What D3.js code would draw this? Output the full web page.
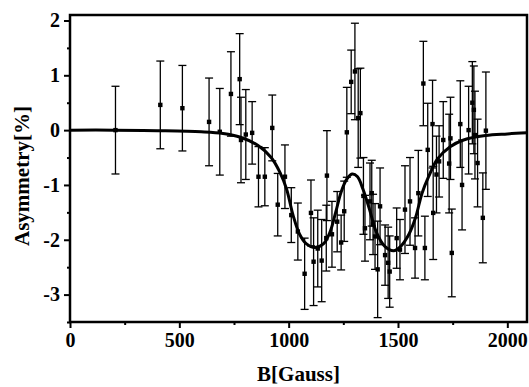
<!DOCTYPE html>
<html>
<head>
<meta charset="utf-8">
<script src="https://cdn.jsdelivr.net/npm/d3@7"></script>
<style>
  html, body { margin: 0; padding: 0; background: #fff; }
  svg { display: block; }
  text { font-family: "Liberation Serif", "Times New Roman", serif; font-weight: bold; fill: #000; }
</style>
</head>
<body>
<svg id="chart" width="529" height="387"></svg>
<script>
// ---- data ----
const fieldB = [208, 413, 514, 636, 685, 736, 776, 782, 804, 833, 862, 891, 925, 950, 983,
  1012, 1042, 1073, 1102, 1114, 1133, 1151, 1172, 1175, 1198, 1222, 1240, 1254, 1266, 1286,
  1303, 1318, 1328, 1342, 1349, 1372, 1380, 1386, 1395, 1407, 1418, 1441, 1455, 1462, 1494,
  1509, 1532, 1555, 1578, 1593, 1616, 1623, 1636, 1658, 1661, 1676, 1688, 1707, 1734, 1740,
  1746, 1785, 1793, 1823, 1840, 1847, 1852, 1864, 1888, 1902];
const asymmetry = [0.00, 0.46, 0.40, 0.15, -0.03, 0.66, 0.93, -0.18, -0.08, -0.05, -0.85, -0.85, 0.04, -1.36, -0.85,
  -1.55, -1.85, -2.62, -1.51, -2.40, -2.16, -2.38, -1.97, -0.83, -1.90, -1.67, -2.05, -1.48, -0.04, 0.88,
  1.07, 0.22, 0.31, -1.20, -1.79, -1.30, -1.15, -1.72, -1.94, -2.54, -1.39, -2.28, -2.42, -2.58, -1.97,
  -2.18, -1.45, -1.30, -2.15, -1.15, 0.85, -2.15, -0.36, 0.11, -1.51, -0.81, -0.57, -0.18, -0.61, -0.15,
  -2.24, 0.11, -1.00, 0.00, 0.50, 0.37, -0.09, -0.60, -1.60, -0.01];
const errorBar = [0.80, 0.80, 0.78, 0.80, 0.79, 0.77, 0.83, 0.78, 0.82, 0.57, 0.55, 0.53, 0.60, 0.57, 0.58,
  0.50, 0.52, 0.65, 0.60, 0.80, 0.70, 0.75, 0.60, 0.82, 0.60, 0.55, 0.50, 0.55, 0.82, 0.58,
  0.88, 0.90, 0.82, 0.70, 0.60, 0.70, 0.60, 0.55, 0.60, 0.88, 0.70, 0.55, 0.65, 0.65, 0.55,
  0.55, 0.80, 0.80, 0.55, 0.78, 0.77, 0.58, 0.85, 0.80, 0.85, 0.70, 0.65, 0.70, 0.90, 0.75,
  0.80, 0.79, 0.82, 0.80, 0.75, 0.80, 0.80, 0.80, 0.82, 1.07];
const fitB = [0, 200, 400, 600, 700, 780, 860, 920, 960, 990, 1020, 1050, 1080, 1120, 1160, 1190,
  1215, 1240, 1265, 1290, 1315, 1340, 1370, 1400, 1440, 1480, 1510, 1550, 1580, 1610, 1640,
  1680, 1740, 1800, 1900, 2000, 2090];
const fitAsym = [0, 0, -0.01, -0.03, -0.06, -0.13, -0.28, -0.50, -0.77, -1.07, -1.55, -1.90, -2.07, -2.14, -2.07, -1.85,
  -1.50, -1.13, -0.90, -0.80, -0.85, -1.08, -1.45, -1.85, -2.12, -2.20, -2.13, -1.90, -1.60, -1.15, -0.85,
  -0.53, -0.30, -0.18, -0.10, -0.07, -0.05];
const xTicks = [0, 500, 1000, 1500, 2000];
const xMinor = [250, 750, 1250, 1750];
const yTicks = [-3, -2, -1, 0, 1, 2];
const yMinor = [-3.5, -2.5, -1.5, -0.5, 0.5, 1.5];
const xLabel = "B[Gauss]";
const yLabel = "Asymmetry[%]";

// ---- layout ----
const svg = d3.select("#chart");
const L = 70, R = 527, T = 15, B = 322;
const x = d3.scaleLinear().domain([0, 2090]).range([L, R]);
const y = d3.scaleLinear().domain([-3.5, 2.1]).range([B, T]);

const points = fieldB.map((b, i) => ({ b, a: asymmetry[i], e: errorBar[i] }));

// error bars
const eg = svg.append("g").attr("stroke", "#000").attr("stroke-width", 1.3);
points.forEach(p => {
  const cx = x(p.b);
  eg.append("line").attr("x1", cx).attr("x2", cx).attr("y1", y(p.a + p.e)).attr("y2", y(p.a - p.e));
  eg.append("line").attr("x1", cx - 4).attr("x2", cx + 4).attr("y1", y(p.a + p.e)).attr("y2", y(p.a + p.e));
  eg.append("line").attr("x1", cx - 4).attr("x2", cx + 4).attr("y1", y(p.a - p.e)).attr("y2", y(p.a - p.e));
});
// markers
svg.append("g").selectAll("rect").data(points).join("rect")
  .attr("x", d => x(d.b) - 2.2).attr("y", d => y(d.a) - 2.2)
  .attr("width", 4.4).attr("height", 4.4).attr("fill", "#000");

// fit curve
const fit = fitB.map((b, i) => [b, fitAsym[i]]);
svg.append("path").datum(fit)
  .attr("fill", "none").attr("stroke", "#000").attr("stroke-width", 3)
  .attr("d", d3.line().x(d => x(d[0])).y(d => y(d[1])).curve(d3.curveCatmullRom.alpha(0.5)));

// frame
svg.append("rect").attr("x", L).attr("y", T).attr("width", R - L).attr("height", B - T)
  .attr("fill", "none").attr("stroke", "#000").attr("stroke-width", 2.5);

// axes
const xAxis = svg.append("g").attr("transform", `translate(0,${B})`)
  .call(d3.axisBottom(x).tickValues(xTicks).tickSize(6).tickPadding(5).tickFormat(d3.format("d")));
svg.append("g").attr("transform", `translate(0,${B})`)
  .call(d3.axisBottom(x).tickValues(xMinor).tickSize(3).tickFormat(""));
const yAxis = svg.append("g").attr("transform", `translate(${L},0)`)
  .call(d3.axisLeft(y).tickValues(yTicks).tickSize(6).tickPadding(4).tickFormat(d3.format("d")));
svg.append("g").attr("transform", `translate(${L},0)`)
  .call(d3.axisLeft(y).tickValues(yMinor).tickSize(3).tickFormat(""));
svg.selectAll(".domain").remove();
svg.selectAll(".tick line").attr("stroke", "#000").attr("stroke-width", 2);
svg.selectAll(".tick text").attr("font-size", 20).attr("font-family", "Liberation Serif").attr("font-weight", "bold");
yAxis.selectAll(".tick text").text(d => d < 0 ? "-" + Math.abs(d) : d);

// titles
svg.append("text").attr("x", (L + R) / 2 + 0).attr("y", 381).attr("text-anchor", "middle")
  .attr("font-size", 21).text(xLabel);
svg.append("text").attr("transform", `translate(29,176) rotate(-90)`).attr("text-anchor", "middle")
  .attr("font-size", 21).text(yLabel);
</script>
</body>
</html>
